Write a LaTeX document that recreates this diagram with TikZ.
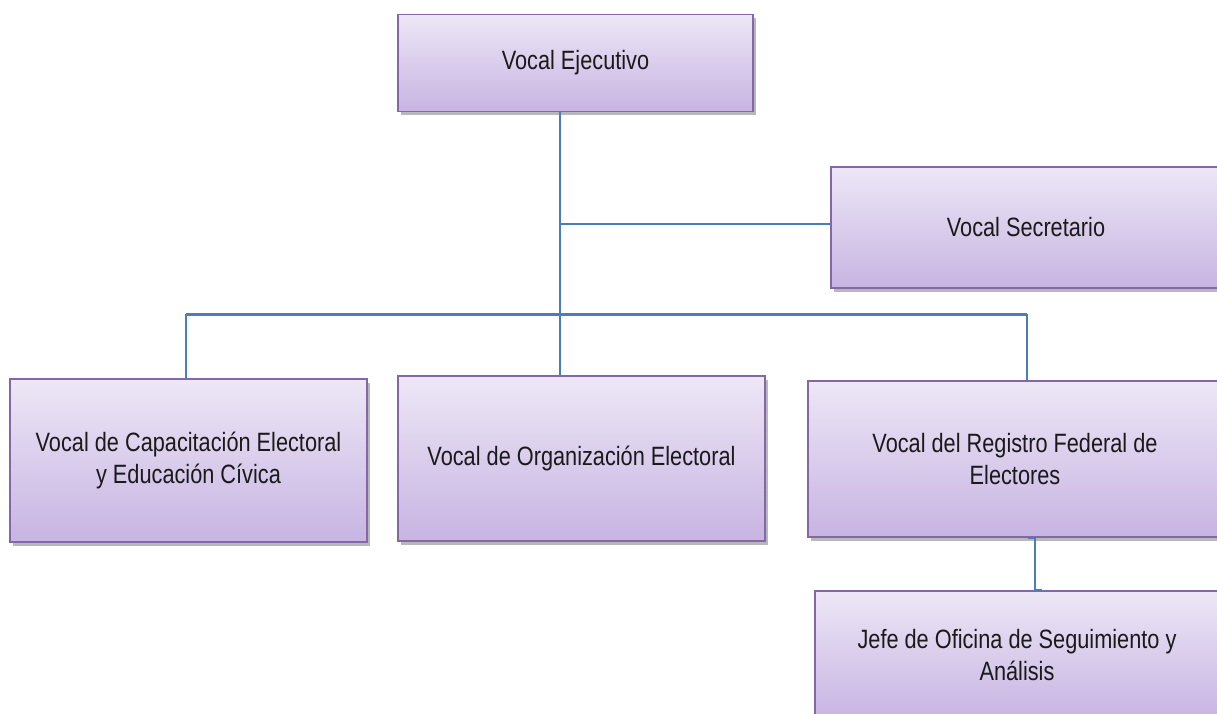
\documentclass[tikz,border=0pt]{standalone}
\usepackage{fontspec}
\setmainfont{Liberation Sans}[FakeStretch=0.82]
\usetikzlibrary{shadows}
\definecolor{boxtop}{HTML}{EDE7F6}
\definecolor{boxbot}{HTML}{C7B4E2}
\definecolor{boxline}{HTML}{8467A6}
\definecolor{conn}{HTML}{4A7EBB}
\definecolor{txt}{HTML}{1A1A1A}
\tikzset{
  orgbox/.style={draw=boxline, line width=1.7pt, top color=boxtop, bottom color=boxbot,
    drop shadow={shadow xshift=3pt, shadow yshift=-3.5pt, fill=black, opacity=0.28},
    text=txt, font=\fontsize{26.5}{32}\selectfont, align=center, inner sep=0pt},
  connector/.style={draw=conn, line width=2pt},
}
\begin{document}
\begin{tikzpicture}[x=1pt,y=-1pt]
\useasboundingbox (0,0) rectangle (1217,713);
\clip (0,0) rectangle (1217,713);
\node[orgbox, minimum width=355pt, minimum height=97pt] (exec) at (575.5,63) {Vocal Ejecutivo};
\node[orgbox, minimum width=390pt, minimum height=121pt] (sec) at (1026,227.5) {Vocal Secretario};
\node[orgbox, minimum width=357pt, minimum height=163pt] (cap) at (188.5,460.5) {Vocal de Capacitación Electoral\\y Educación Cívica};
\node[orgbox, minimum width=367pt, minimum height=165pt] (org) at (581.5,458.5) {Vocal de Organización Electoral};
\node[orgbox, minimum width=414pt, minimum height=156pt] (reg) at (1015,459) {Vocal del Registro Federal de\\Electores};
\node[orgbox, minimum width=404pt, minimum height=128pt] (jefe) at (1017,655) {Jefe de Oficina de Seguimiento y\\Análisis};
\coordinate (trunk) at (560,314);
\coordinate (bl) at (186,314);
\coordinate (br) at (1027,314);
\coordinate (sj) at (560,224);
\coordinate (ra) at (1028,0);
\coordinate (rj) at (1035,0);
\coordinate (rb) at (1042,0);
\draw[connector] (exec.south -| trunk) -- (org.north -| trunk);
\draw[connector, line width=1.5pt] (sj) -- (sj -| sec.west);
\draw[connector, line width=3pt] (bl) -- (br);
\draw[connector] (cap.north -| bl) -- (bl);
\draw[connector] (reg.north -| br) -- (br);
\draw[connector] (reg.south -| ra) -| (rj |- jefe.north) -- (jefe.north -| rb);
\end{tikzpicture}
\end{document}
